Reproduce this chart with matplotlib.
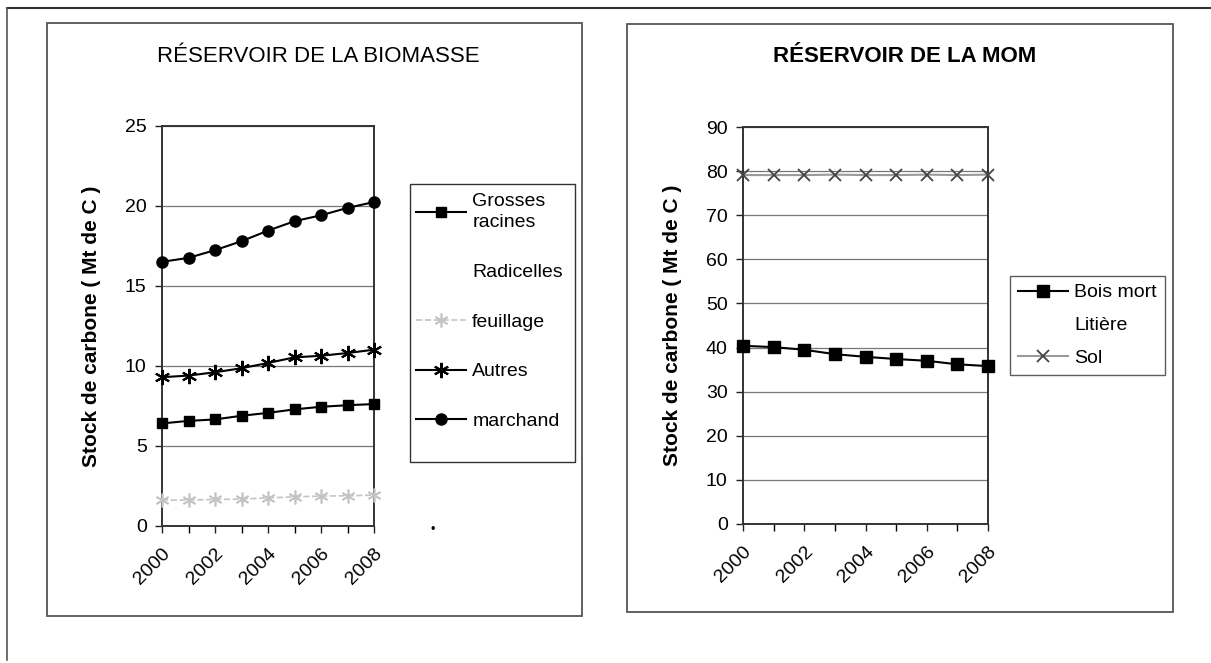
import matplotlib.pyplot as plt
from matplotlib.lines import Line2D
from matplotlib.patches import Rectangle

plt.rcParams['font.family'] = ['Liberation Sans', 'DejaVu Sans']

# data
years = [2000, 2001, 2002, 2003, 2004, 2005, 2006, 2007, 2008]
year_ticks = [2000, 2002, 2004, 2006, 2008]

grosses_racines = [6.41, 6.57, 6.66, 6.89, 7.07, 7.29, 7.45, 7.55, 7.62]
feuillage = [1.62, 1.62, 1.66, 1.68, 1.76, 1.82, 1.87, 1.89, 1.93]
autres = [9.30, 9.40, 9.61, 9.86, 10.19, 10.54, 10.64, 10.81, 11.02]
marchand = [16.51, 16.76, 17.24, 17.80, 18.46, 19.05, 19.42, 19.88, 20.25]

bois_mort = [40.4, 40.1, 39.5, 38.5, 37.9, 37.4, 37.0, 36.2, 35.8]
sol = [79.1, 79.1, 79.1, 79.2, 79.1, 79.1, 79.2, 79.1, 79.2]

W, H = 1211, 663
fig = plt.figure(figsize=(W / 100, H / 100), dpi=100)


def fx(px):
    return px / W


def fy(py):
    return 1 - py / H


def frame(x0, y0, x1, y1, color='#555555', lw=1.3):
    fig.add_artist(Rectangle((fx(x0), fy(y1)), fx(x1 - x0), (y1 - y0) / H,
                             fill=False, edgecolor=color, lw=lw))


# outer frame and panel frames
fig.add_artist(Line2D([fx(7), 1], [fy(8), fy(8)], color='#333333', lw=1.5))
fig.add_artist(Line2D([fx(7), fx(7)], [fy(8), fy(660)], color='#555555', lw=1.2))
frame(47, 23, 582, 616)
frame(627, 24, 1173, 612)

star = (6, 2, 0)


def style_axes(ax, ymax, ystep):
    ax.set_xlim(2000, 2008)
    ax.set_ylim(0, ymax)
    ax.set_yticks(range(0, ymax + 1, ystep))
    ax.set_xticks(years, minor=True)
    ax.set_xticks(year_ticks)
    ax.set_xticklabels([str(y) for y in year_ticks], rotation=45, ha='right',
                       rotation_mode='anchor')
    ax.tick_params(axis='both', labelsize=14, length=5, width=1,
                   color='#222222', pad=9)
    ax.tick_params(axis='x', which='minor', length=5, width=1)
    ax.tick_params(axis='y', pad=6)
    ax.grid(axis='y', color='#777777', lw=0.9)
    ax.set_axisbelow(True)
    for s in ax.spines.values():
        s.set_color('#333333')
        s.set_linewidth(1.4)
    ax.set_ylabel('Stock de carbone ( Mt de C )', fontsize=15,
                  fontweight='bold', labelpad=17)


# left panel
ax1 = fig.add_axes([fx(162), fy(526), fx(212), 400 / H])
ax1.plot(years, grosses_racines, color='black', lw=1.5, marker='s', ms=7,
         label='Grosses\nracines', clip_on=False, zorder=3)
ax1.plot([], [], ls='none', label='Radicelles')
ax1.plot(years, feuillage, color='#c4c4c4', lw=1.2, ls='--', marker=star,
         ms=10, mew=1.2, label='feuillage', clip_on=False, zorder=3)
ax1.plot(years, autres, color='black', lw=1.5, marker=star, ms=11, mew=1.5,
         label='Autres', clip_on=False, zorder=3)
ax1.plot(years, marchand, color='black', lw=1.5, marker='o', ms=8,
         label='marchand', clip_on=False, zorder=3)
style_axes(ax1, 25, 5)
ax1.set_title('RÉSERVOIR DE LA BIOMASSE', fontsize=16, pad=0,
              x=(318 - 162) / 212, y=(526 - 62) / 400)
leg1 = ax1.legend(loc='upper left', bbox_to_anchor=(fx(410), fy(187)),
                  bbox_transform=fig.transFigure, fontsize=14, frameon=False,
                  handlelength=2.6, handletextpad=0.3, labelspacing=1.65,
                  borderpad=0.3, borderaxespad=0)
for t in leg1.get_texts():
    t.set_linespacing(1.35)
frame(410, 184, 575, 462, color='#333333', lw=1.0)
fig.text(fx(433), fy(530), '•', fontsize=9, ha='center', va='center')

# right panel
ax2 = fig.add_axes([fx(743), fy(524), fx(245), 397 / H])
ax2.plot(years, bois_mort, color='black', lw=1.5, marker='s', ms=8,
         label='Bois mort', clip_on=False, zorder=3)
ax2.plot([], [], ls='none', label='Litière')
ax2.plot(years, sol, color='#9a9a9a', lw=1.5, marker='x', ms=9, mew=1.3,
         mec='#444444', label='Sol', clip_on=False, zorder=3)
style_axes(ax2, 90, 10)
ax2.set_title('RÉSERVOIR DE LA MOM', fontsize=16, fontweight='bold', pad=0,
              x=(905 - 743) / 245, y=(524 - 62) / 397)
leg2 = ax2.legend(loc='upper left', bbox_to_anchor=(fx(1010), fy(276)),
                  bbox_transform=fig.transFigure, fontsize=14, frameon=True,
                  fancybox=False, edgecolor='#333333', handlelength=2.6,
                  handletextpad=0.3, labelspacing=0.78, borderpad=0.4,
                  borderaxespad=0)
leg2.get_frame().set_linewidth(1.0)

fig.savefig('out.png', dpi=100, facecolor='white')
